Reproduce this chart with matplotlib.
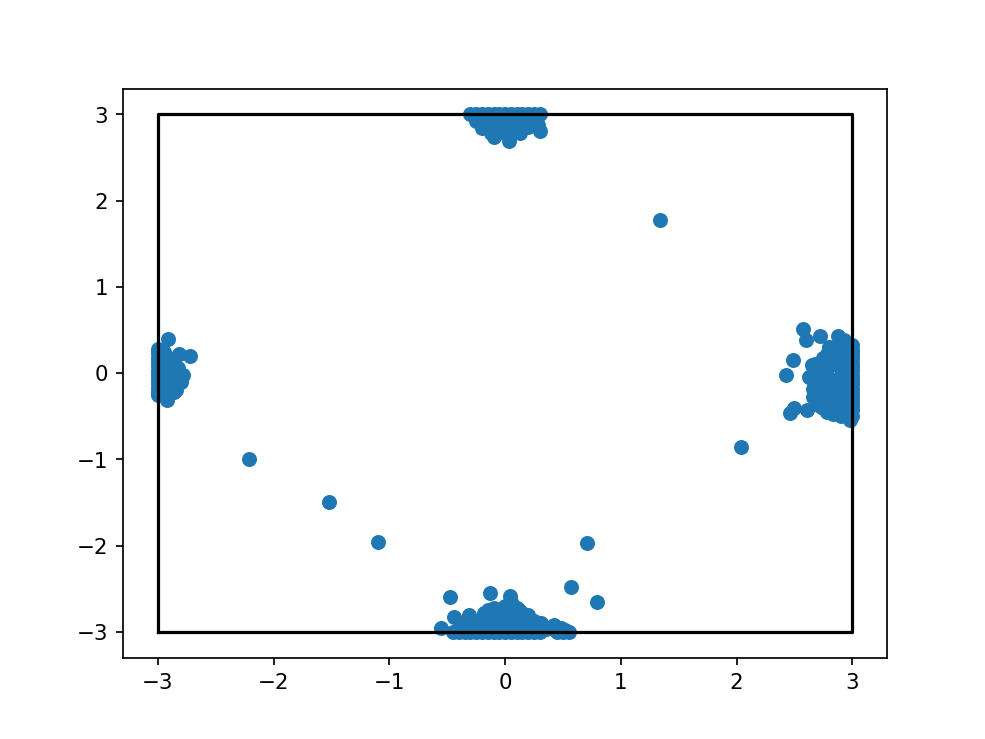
import matplotlib
matplotlib.use("Agg")
import matplotlib.pyplot as plt

# bounding box of the domain
box_x = [-3, 3, 3, -3, -3]
box_y = [-3, -3, 3, 3, -3]

# top cluster (pinned near y = 3)
top_x = [-0.3, -0.25, -0.2, -0.15, -0.1, -0.05, 0.0, 0.05, 0.1, 0.15, 0.2, 0.25, 0.3,
         -0.25, -0.15, 0.0, 0.1, 0.2, 0.28, -0.05,
         -0.2, -0.12, 0.03, 0.13, 0.3, 0.05, -0.08, 0.2, -0.1,
         -0.18, -0.05, 0.08, 0.18, 0.25, -0.1, 0.1, 0.0]
top_y = [3.0, 3.0, 3.0, 3.0, 3.0, 3.0, 3.0, 3.0, 3.0, 3.0, 3.0, 3.0, 3.0,
         2.92, 2.88, 2.9, 2.92, 2.9, 2.88, 2.85,
         2.84, 2.78, 2.69, 2.78, 2.81, 2.82, 2.82, 2.85, 2.74,
         2.92, 2.93, 2.86, 2.95, 2.94, 2.88, 2.8, 2.78]

# bottom cluster (pinned near y = -3)
bot_x = [-0.45, -0.4, -0.35, -0.3, -0.25, -0.2, -0.15, -0.1, -0.05, 0.0, 0.05, 0.1,
         0.15, 0.2, 0.25, 0.3, 0.45, 0.5, 0.55,
         -0.55, -0.48, -0.13, 0.04, -0.44, -0.31, 0.31, 0.42, 0.52,
         -0.2, -0.15, -0.1, -0.05, 0.0, 0.05, 0.1, 0.15, 0.2, 0.25,
         -0.25, -0.1, 0.05, 0.15, -0.35, 0.35,
         -0.18, -0.08, 0.02, 0.12, 0.22, -0.22, -0.12, -0.02, 0.08, 0.18, 0.28,
         -0.05, 0.08, 0.2, -0.15, 0.38, 0.48, -0.38]
bot_y = [-3.0, -3.0, -3.0, -3.0, -3.0, -3.0, -3.0, -3.0, -3.0, -3.0, -3.0, -3.0,
         -3.0, -3.0, -3.0, -3.0, -3.0, -3.0, -3.0,
         -2.95, -2.6, -2.55, -2.58, -2.83, -2.8, -2.9, -2.92, -2.98,
         -2.85, -2.75, -2.72, -2.8, -2.7, -2.66, -2.72, -2.78, -2.8, -2.88,
         -2.9, -2.9, -2.88, -2.92, -2.95, -2.97,
         -2.78, -2.74, -2.76, -2.75, -2.86, -2.95, -2.85, -2.9, -2.82, -2.88, -2.93,
         -2.95, -2.95, -2.96, -2.92, -2.96, -2.95, -2.9]

# left cluster (pinned near x = -3)
left_x = [-3.0, -3.0, -3.0, -3.0, -3.0, -3.0, -3.0, -3.0, -3.0, -3.0, -3.0, -3.0,
          -2.91, -2.82, -2.72, -2.86, -2.83, -2.78, -2.8, -2.84, -2.92, -2.9,
          -2.92, -2.9, -2.95, -2.95, -2.88, -2.86, -2.95, -2.95, -2.9]
left_y = [0.28, 0.23, 0.18, 0.13, 0.08, 0.03, -0.02, -0.07, -0.12, -0.17, -0.22, -0.25,
          0.39, 0.22, 0.2, 0.13, 0.06, -0.02, -0.1, -0.2, -0.31, -0.15,
          0.0, 0.18, 0.25, -0.25, -0.05, -0.22, 0.1, -0.1, 0.08]

# right cluster (pinned near x = 3)
right_x = [3.0, 3.0, 3.0, 3.0, 3.0, 3.0, 3.0, 3.0, 3.0, 3.0, 3.0, 3.0, 3.0, 3.0, 3.0, 3.0, 3.0,
           2.57, 2.72, 2.6, 2.88, 2.49, 2.43, 2.63, 2.75, 2.66, 2.46, 2.5, 2.61, 2.83,
           2.9, 2.7, 2.75, 2.68, 2.7, 2.72, 2.8, 2.85, 2.8, 2.78, 2.82, 2.9, 2.88,
           2.92, 2.95, 2.8, 2.85, 2.9, 2.95, 2.68, 2.7, 2.75, 2.78,
           2.65, 2.64, 2.66, 2.98,
           2.72, 2.72, 2.72, 2.72, 2.78, 2.78, 2.78, 2.78, 2.84, 2.84, 2.84, 2.84,
           2.9, 2.9, 2.9, 2.9, 2.95, 2.95, 2.95, 2.95, 2.86, 2.93]
right_y = [0.32, 0.27, 0.22, 0.17, 0.12, 0.07, 0.02, -0.03, -0.08, -0.13, -0.18, -0.23,
           -0.28, -0.33, -0.38, -0.43, -0.5,
           0.51, 0.43, 0.38, 0.43, 0.15, -0.02, -0.05, 0.18, -0.28, -0.46, -0.4, -0.43, -0.48,
           -0.5, -0.35, -0.4, 0.05, -0.1, -0.2, 0.3, 0.2, 0.1, -0.05, -0.3, 0.35, -0.2,
           0.0, -0.4, -0.4, -0.15, 0.15, 0.25, 0.1, -0.15, 0.0, -0.45,
           0.09, -0.06, -0.18, -0.54,
           0.12, -0.02, -0.25, -0.38, 0.22, 0.05, -0.18, -0.32, 0.1, -0.08, -0.25, -0.42,
           0.25, 0.05, -0.1, -0.35, 0.18, -0.02, -0.22, -0.48, 0.3, 0.38]

# scattered points between the clusters
mid_x = [1.34, -2.21, -1.52, -1.1, 2.04, 0.71, 0.57, 0.79]
mid_y = [1.78, -1.0, -1.49, -1.96, -0.86, -1.97, -2.48, -2.65]

xs = top_x + bot_x + left_x + right_x + mid_x
ys = top_y + bot_y + left_y + right_y + mid_y

fig, ax = plt.subplots(figsize=(6.4, 4.8), dpi=154)
ax.scatter(xs, ys)
ax.plot(box_x, box_y, 'k')

fig.savefig("out.png", dpi=154)
